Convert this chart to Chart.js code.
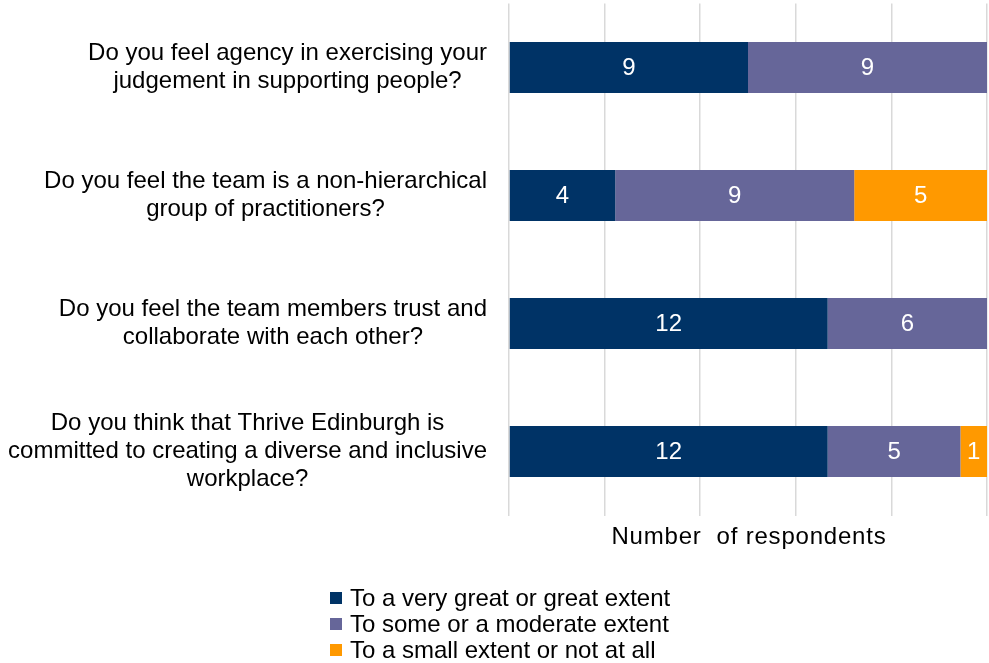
<!DOCTYPE html>
<html>
<head>
<meta charset="utf-8">
<script src="https://cdn.jsdelivr.net/npm/chart.js@4/dist/chart.umd.min.js"></script>
<style>
  html, body { margin: 0; padding: 0; background: #ffffff; }
  #wrap { width: 989px; height: 663px; position: relative; }
</style>
</head>
<body>
<div id="wrap"><canvas id="chart"></canvas></div>
<script>
// Survey questions (one entry per bar, each split into display lines)
const questions = [
  ["Do you feel agency in exercising your", "judgement in supporting people?"],
  ["Do you feel the team is a non-hierarchical", "group of practitioners?"],
  ["Do you feel the team members trust and", "collaborate with each other?"],
  ["Do you think that Thrive Edinburgh is", "committed to creating a diverse and inclusive", "workplace?"]
];

// Response counts per answer band
const greatExtent    = [9, 4, 12, 12];
const moderateExtent = [9, 9, 6, 5];
const smallExtent    = [0, 5, 0, 1];

const seriesNames = [
  "To a very great or great extent",
  "To some or a moderate extent",
  "To a small extent or not at all"
];
const seriesColors = ["#003366", "#666699", "#FF9900"];

const axisTitle = "Number  of respondents";

const FONT = "Liberation Sans, Arial, Helvetica, sans-serif";
const TEXT_SIZE = 24;

// Multi-line question labels: block right-aligned to the plot, lines centred within it
const questionLabels = {
  id: "questionLabels",
  afterDraw(chart) {
    const ctx = chart.ctx;
    const yScale = chart.scales.y;
    const right = chart.chartArea.left - 22;
    const lineH = 28;
    ctx.save();
    ctx.font = TEXT_SIZE + "px " + FONT;
    ctx.fillStyle = "#000000";
    ctx.textAlign = "center";
    ctx.textBaseline = "middle";
    questions.forEach((lines, i) => {
      const cy = yScale.getPixelForValue(i);
      const blockW = Math.max(...lines.map(l => ctx.measureText(l).width));
      const cx = right - blockW / 2;
      const y0 = cy - (lines.length - 1) * lineH / 2;
      lines.forEach((l, k) => ctx.fillText(l, cx, y0 + k * lineH));
    });
    ctx.restore();
  }
};

// Value labels inside each bar segment
const segmentValues = {
  id: "segmentValues",
  afterDatasetsDraw(chart) {
    const ctx = chart.ctx;
    ctx.save();
    ctx.font = TEXT_SIZE + "px " + FONT;
    ctx.fillStyle = "#ffffff";
    ctx.textAlign = "center";
    ctx.textBaseline = "middle";
    chart.data.datasets.forEach((ds, di) => {
      const meta = chart.getDatasetMeta(di);
      meta.data.forEach((bar, i) => {
        const v = ds.data[i];
        if (!v) return;
        const p = bar.getProps(["x", "y", "base"], true);
        ctx.fillText(String(v), (p.x + p.base) / 2, p.y + 1);
      });
    });
    ctx.restore();
  }
};

// Axis title and vertical legend beneath the plot
const bottomText = {
  id: "bottomText",
  afterDraw(chart) {
    const ctx = chart.ctx;
    const area = chart.chartArea;
    ctx.save();
    ctx.font = TEXT_SIZE + "px " + FONT;
    ctx.fillStyle = "#000000";
    ctx.textBaseline = "middle";
    ctx.textAlign = "center";
    ctx.letterSpacing = "0.8px";
    ctx.fillText(axisTitle, (area.left + area.right) / 2 + 1, 537);
    ctx.letterSpacing = "0px";

    ctx.textAlign = "left";
    const legendX = 330;
    const legendY = 598;
    const rowH = 26;
    chart.data.datasets.forEach((ds, i) => {
      const y = legendY + i * rowH;
      ctx.fillStyle = ds.backgroundColor;
      ctx.fillRect(legendX, y - 6, 12, 12);
      ctx.fillStyle = "#000000";
      ctx.fillText(ds.label, legendX + 20, y + 1);
    });
    ctx.restore();
  }
};

new Chart(document.getElementById("chart"), {
  type: "bar",
  data: {
    labels: questions.map(q => q.join(" ")),
    datasets: [
      { label: seriesNames[0], data: greatExtent,    backgroundColor: seriesColors[0] },
      { label: seriesNames[1], data: moderateExtent, backgroundColor: seriesColors[1] },
      { label: seriesNames[2], data: smallExtent,    backgroundColor: seriesColors[2] }
    ]
  },
  options: {
    indexAxis: "y",
    responsive: true,
    maintainAspectRatio: false,
    animation: false,
    datasets: {
      bar: { categoryPercentage: 1, barPercentage: 0.4, borderWidth: 0 }
    },
    layout: { padding: { left: 509, right: 2, top: 3.5, bottom: 147.5 } },
    scales: {
      x: {
        stacked: true,
        min: 0,
        max: 18,
        ticks: { display: false, stepSize: 3.6 },
        grid: { color: "#d9d9d9", lineWidth: 1.5, drawTicks: false },
        border: { display: false }
      },
      y: {
        stacked: true,
        ticks: { display: false },
        grid: { display: false, drawTicks: false },
        border: { display: false }
      }
    },
    plugins: {
      legend: { display: false },
      tooltip: { enabled: false }
    }
  },
  plugins: [questionLabels, segmentValues, bottomText]
});
</script>
</body>
</html>
